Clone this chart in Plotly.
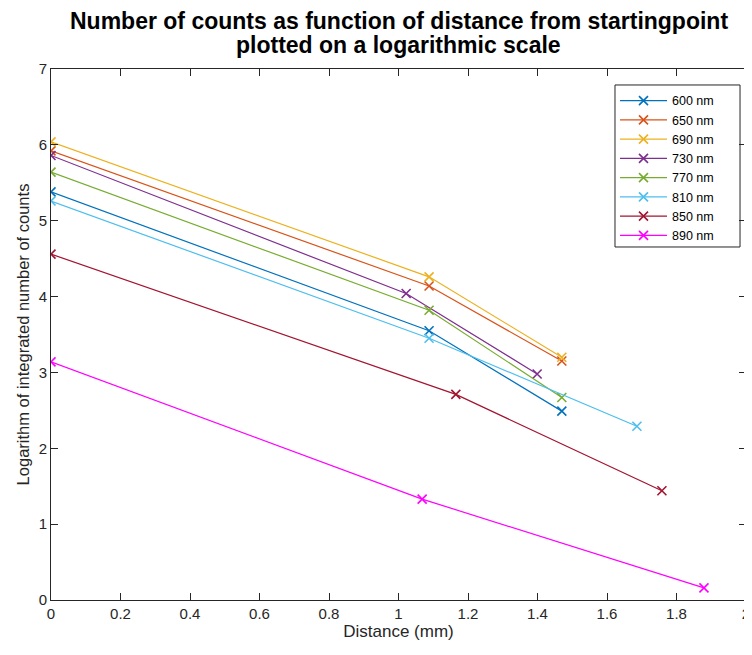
import plotly.graph_objects as go

labels = ["600 nm", "650 nm", "690 nm", "730 nm", "770 nm", "810 nm", "850 nm", "890 nm"]
colors = ["#0072BD", "#D95319", "#EDB120", "#7E2F8E", "#77AC30", "#4DBEEE", "#A2142F", "#FF00FF"]

x600 = [0, 1.088, 1.470]
y600 = [5.38, 3.55, 2.49]
x650 = [0, 1.088, 1.470]
y650 = [5.92, 4.14, 3.15]
x690 = [0, 1.088, 1.470]
y690 = [6.04, 4.26, 3.20]
x730 = [0, 1.022, 1.399]
y730 = [5.86, 4.04, 2.98]
x770 = [0, 1.088, 1.470]
y770 = [5.64, 3.82, 2.67]
x810 = [0, 1.088, 1.686]
y810 = [5.26, 3.45, 2.29]
x850 = [0, 1.165, 1.758]
y850 = [4.56, 2.71, 1.44]
x890 = [0, 1.068, 1.879]
y890 = [3.14, 1.33, 0.16]

xs = [x600, x650, x690, x730, x770, x810, x850, x890]
ys = [y600, y650, y690, y730, y770, y810, y850, y890]

title_line1 = "<b>Number of counts as function of distance from startingpoint</b>"
title_line2 = "<b>plotted on a logarithmic scale</b>"

fig = go.Figure()
for lab, col, x, y in zip(labels, colors, xs, ys):
    fig.add_trace(go.Scatter(
        x=x, y=y, name=lab, mode="lines+markers",
        line=dict(color=col, width=1.2),
        marker=dict(symbol="x-thin", size=9, line=dict(color=col, width=1.6)),
    ))

# page body has an 8px margin, so the figure is sized/offset to compensate
fig.update_layout(
    width=744, height=647,
    margin=dict(l=43, r=6, t=61, b=55),
    paper_bgcolor="white", plot_bgcolor="white",
    font=dict(family="Liberation Sans, Arial, sans-serif", size=15, color="#262626"),
    xaxis=dict(
        range=[0, 2], tickmode="array", tickvals=[0, 0.2, 0.4, 0.6, 0.8, 1, 1.2, 1.4, 1.6, 1.8, 2],
        ticks="inside", ticklen=7, tickcolor="#262626", showline=True, linecolor="#262626",
        linewidth=1, mirror="ticks", showgrid=False, zeroline=False, automargin=False,
        tickfont=dict(size=15),
        title=dict(text="Distance (mm)", font=dict(size=17), standoff=4),
    ),
    yaxis=dict(
        range=[0, 7], tickmode="array", tickvals=[0, 1, 2, 3, 4, 5, 6, 7],
        ticks="inside", ticklen=7, tickcolor="#262626", showline=True, linecolor="#262626",
        linewidth=1, mirror="ticks", showgrid=False, zeroline=False, automargin=False,
        tickfont=dict(size=15),
        title=dict(text="Logarithm of integrated number of counts", font=dict(size=16.5), standoff=4),
    ),
    legend=dict(
        x=0.8115, xanchor="left", y=0.968, yanchor="top",
        bgcolor="rgba(0,0,0,0)", borderwidth=0,
        font=dict(size=12.5, color="black"), itemwidth=47, tracegroupgap=0,
    ),
    shapes=[dict(
        type="rect", xref="paper", yref="paper", layer="below",
        x0=0.8115, x1=0.9914, y0=0.6648, y1=0.9699,
        line=dict(color="#262626", width=1), fillcolor="white",
    )],
    annotations=[
        dict(text=title_line1, xref="paper", yref="paper", x=0.5, y=1.0913,
             xanchor="center", yanchor="middle", showarrow=False,
             font=dict(size=23, color="black")),
        dict(text=title_line2, xref="paper", yref="paper", x=0.5, y=1.046,
             xanchor="center", yanchor="middle", showarrow=False,
             font=dict(size=23, color="black")),
    ],
)

fig.write_html("out.html")
